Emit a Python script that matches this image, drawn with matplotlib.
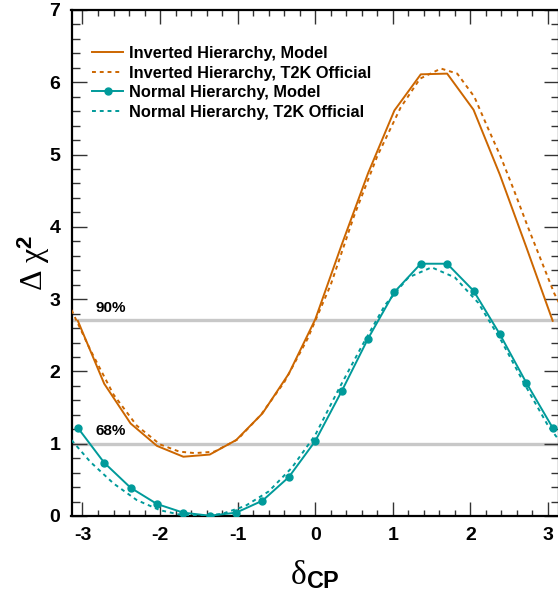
import numpy as np
import matplotlib
matplotlib.use("Agg")
import matplotlib.pyplot as plt
from matplotlib.ticker import MultipleLocator

plt.rcParams['font.family'] = ['Liberation Sans', 'DejaVu Sans']
plt.rcParams['axes.unicode_minus'] = False
plt.rcParams['mathtext.fontset'] = 'custom'
plt.rcParams['mathtext.rm'] = 'Liberation Serif:weight=normal'
plt.rcParams['mathtext.it'] = 'Liberation Serif:italic:weight=normal'
plt.rcParams['mathtext.bf'] = 'Liberation Sans:bold'

# ---- data ----
model_x = [-3.06, -2.72, -2.38, -2.04, -1.70, -1.36, -1.02, -0.68, -0.34, 0.0,
           0.34, 0.68, 1.02, 1.36, 1.70, 2.04, 2.38, 2.72, 3.06]
ih_model = [2.70, 1.83, 1.28, 0.97, 0.82, 0.85, 1.05, 1.42, 1.97, 2.72,
            3.75, 4.74, 5.61, 6.11, 6.12, 5.62, 4.72, 3.72, 2.70]
nh_model = [1.22, 0.737, 0.391, 0.166, 0.046, 0.004, 0.046, 0.212, 0.539, 1.037,
            1.725, 2.453, 3.098, 3.49, 3.49, 3.116, 2.513, 1.844, 1.22]

ih_t2k_x = [-3.1416, -2.9, -2.6, -2.3, -2.0, -1.75, -1.55, -1.3, -1.0, -0.7, -0.4, -0.1,
            0.2, 0.5, 0.8, 1.1, 1.35, 1.62, 1.83, 2.05, 2.22, 2.39, 2.56, 2.74, 2.91, 3.08, 3.1416]
ih_t2k = [2.85, 2.3, 1.68, 1.25, 0.99, 0.89, 0.87, 0.89, 1.06, 1.40, 1.85, 2.45,
          3.2, 4.15, 4.98, 5.65, 6.05, 6.19, 6.12, 5.8, 5.38, 4.97, 4.51, 4.0, 3.54, 3.08, 2.95]

nh_t2k_x = [-3.1416, -2.9, -2.6, -2.3, -2.0, -1.75, -1.45, -1.2, -0.9, -0.6, -0.3, 0.0,
            0.3, 0.6, 0.9, 1.2, 1.5, 1.8, 2.1, 2.4, 2.7, 3.0, 3.1416]
nh_t2k = [1.05, 0.75, 0.45, 0.22, 0.08, 0.02, 0.0, 0.03, 0.14, 0.34, 0.67, 1.12,
          1.75, 2.35, 2.92, 3.3, 3.44, 3.3, 2.95, 2.42, 1.82, 1.25, 1.05]

cl_levels = [2.71, 1.0]
cl_labels = ['90%', '68%']
cl_label_y = [2.88, 1.17]

xticks = [-3, -2, -1, 0, 1, 2, 3]
yticks = [0, 1, 2, 3, 4, 5, 6, 7]

ORANGE = '#CC6600'
TEAL = '#009A9A'

fig = plt.figure(figsize=(5.58, 5.93), dpi=100)
ax = fig.add_axes([71.5/558, 77/593, (559-71.5)/558, 506/593])

for lv in cl_levels:
    ax.axhline(lv, color='#c8c8c8', lw=2.4, zorder=1)
for lab, yv in zip(cl_labels, cl_label_y):
    ax.text(-2.83, yv, lab, fontsize=11, fontweight='bold', va='center', ha='left')

ax.plot(model_x, ih_model, color=ORANGE, lw=1.4, label='Inverted Hierarchy, Model', zorder=3)
ax.plot(ih_t2k_x, ih_t2k, color=ORANGE, lw=1.4, ls=(0, (2, 2)), label='Inverted Hierarchy, T2K Official', zorder=3)
ax.plot(model_x, nh_model, color=TEAL, lw=1.4, marker='o', ms=5, label='Normal Hierarchy, Model', zorder=3)
ax.plot(nh_t2k_x, nh_t2k, color=TEAL, lw=1.4, ls=(0, (2, 2)), label='Normal Hierarchy, T2K Official', zorder=3)

ax.set_xlim(-np.pi, np.pi)
ax.set_ylim(0, 7)
ax.set_xticks(xticks)
ax.set_yticks(yticks)
ax.xaxis.set_minor_locator(MultipleLocator(0.2))
ax.yaxis.set_minor_locator(MultipleLocator(0.2))
ax.tick_params(which='both', direction='in', top=True, right=True, width=1, color='#333333')
ax.tick_params(axis='x', which='major', length=10, pad=8, labelsize=14)
ax.tick_params(axis='x', which='minor', length=4.5)
ax.tick_params(axis='y', which='major', length=11, pad=8, labelsize=14)
ax.tick_params(axis='y', which='minor', length=5.5)
for lbl in ax.get_xticklabels() + ax.get_yticklabels():
    lbl.set_fontweight('bold')
for sp in ax.spines.values():
    sp.set_linewidth(1.6)

ax.set_xlabel(r'$\mathrm{\delta}_{\mathbf{CP}}$', fontsize=24, labelpad=10)
ax.set_ylabel(r'$\mathrm{\Delta\ \chi}^{\mathbf{2}}$', fontsize=23, labelpad=-2)

leg = ax.legend(loc='upper left', bbox_to_anchor=(92/558, 1 - 46/593), bbox_transform=fig.transFigure,
                frameon=False, prop={'size': 11.8, 'weight': 'bold'}, handlelength=1.9, handletextpad=0.38,
                labelspacing=0.28, borderpad=0, borderaxespad=0)

fig.savefig('out.png', dpi=100)
